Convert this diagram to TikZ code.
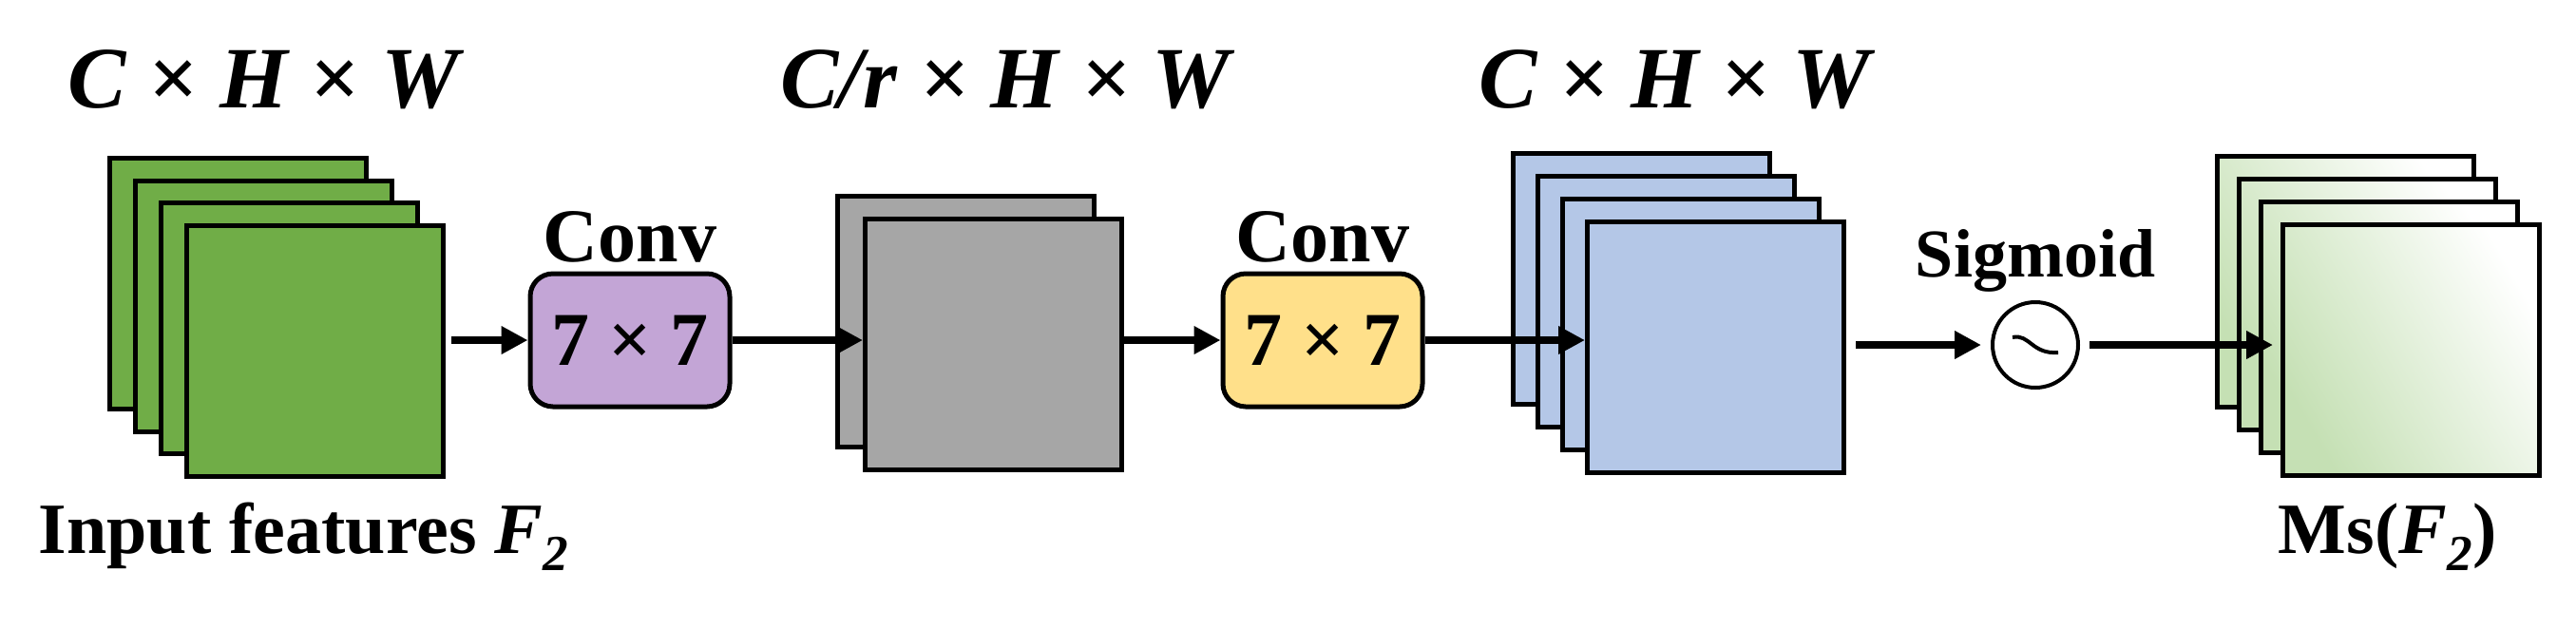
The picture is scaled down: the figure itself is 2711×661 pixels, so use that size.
\documentclass[tikz,border=0pt]{standalone}
\usepackage{fontspec}
\setmainfont{Liberation Serif}
\usetikzlibrary{arrows.meta,calc}
\definecolor{gfill}{HTML}{70AD47}
\definecolor{grfill}{HTML}{A6A6A6}
\definecolor{bfill}{HTML}{B4C7E7}
\definecolor{pfill}{HTML}{C3A5D6}
\definecolor{yfill}{HTML}{FFE08A}
\definecolor{lgfill}{HTML}{C5E0B4}
\begin{document}
\begin{tikzpicture}[x=0.5pt,y=-0.5pt,
  sheet/.style={draw=black,line width=2.5pt,minimum width=135pt,minimum height=132pt,inner sep=0pt,anchor=north west},
  kbox/.style={draw=black,line width=2.5pt,rounded corners=12pt,minimum width=105pt,minimum height=70pt,inner sep=0pt,font=\bfseries\fontsize{40}{44}\selectfont},
  lbl/.style={font=\bfseries\fontsize{40}{44}\selectfont,inner sep=0pt},
  ttl/.style={font=\bfseries\itshape\fontsize{46}{50}\selectfont,inner sep=0pt},
  arr/.style={line width=4pt,-{Triangle[length=14pt,width=14pt]}}]
\useasboundingbox (0,0) rectangle (2711,661);
% green input
\foreach \i in {0,1,2,3}{\node[sheet,fill=gfill] (g\i) at (113+27*\i,164+23.5*\i) {};}
% gray
\node[sheet,fill=grfill] (r0) at (879,204) {};
\node[sheet,fill=grfill] (r1) at (908,228) {};
% blue
\foreach \i in {0,1,2,3}{\node[sheet,fill=bfill] (b\i) at (1590+26*\i,159+24*\i) {};}
% light green
\foreach \i in {0,1,2,3}{\node[sheet,shading=axis,left color=white,right color=lgfill,shading angle=-60,draw=black] (m\i) at (2331+23*\i,162+24*\i) {};}
% kernels
\node[kbox,fill=pfill] (k1) at (663,358) {$\mathbf{7}$ × $\mathbf{7}$};
\node[kbox,fill=yfill] (k2) at (1392,358) {$\mathbf{7}$ × $\mathbf{7}$};
\node[lbl] (c1) at (663,249) {Conv};
\node[lbl] (c2) at (1392,249) {Conv};
% sigmoid
\node[draw=black,line width=2pt,circle,minimum size=45pt,inner sep=0pt] (sg) at (2142,363) {};
\draw[line width=2pt] ($(sg.center)+(-24,-8)$) .. controls ($(sg.center)+(-6,-12)$) and ($(sg.center)+(-4,10)$) .. ($(sg.center)+(24,8)$);
\node[font=\bfseries\fontsize{36}{40}\selectfont,inner sep=0pt] (sl) at (2142,274) {Sigmoid};
% titles
\node[ttl] (t1) at (277,84) {C × H × W};
\node[ttl] (t2) at (1058,84) {C/r × H × W};
\node[ttl] (t3) at (1762,84) {C × H × W};
\node[lbl,font=\bfseries\fontsize{38}{42}\selectfont] (in) at (320,565) {Input features \textit{F}\textsubscript{\textit{2}}};
\node[lbl,font=\bfseries\fontsize{38}{42}\selectfont] (ms) at (2513,565) {Ms(\textit{F}\textsubscript{\textit{2}})};
% arrows
\draw[arr] ($(g3.east|-k1.west)+(6,0)$) coordinate (a1) -- (k1.west);
\draw[arr] (k1.east) -- (r1.west|-k1.east);
\draw[arr] (r1.east|-k2.west) -- (k2.west);
\draw[arr] (k2.east) -- (b3.west|-k2.east);
\draw[arr] ($(b3.east|-sg.west)+(10,0)$) coordinate (a5) -- ($(sg.west)+(-10,0)$);
\draw[arr] ($(sg.east)+(10,0)$) coordinate (a6) -- ($(m3.west|-sg.east)+(-8,0)$);
\end{tikzpicture}
\end{document}
